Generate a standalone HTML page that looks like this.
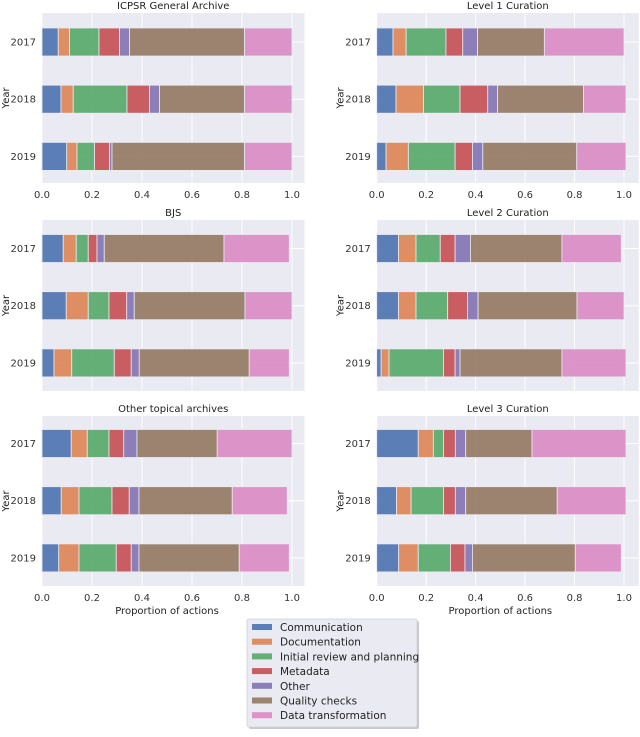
<!DOCTYPE html>
<html><head><meta charset="utf-8"><style>
html,body{margin:0;padding:0;background:#fff;}
svg{display:block;font-family:"DejaVu Sans","Liberation Sans",sans-serif;}
</style></head><body>
<svg id="chart" width="640" height="737" viewBox="0 0 640 737" xmlns="http://www.w3.org/2000/svg"></svg>
<script>
const categories = ["Communication","Documentation","Initial review and planning","Metadata","Other","Quality checks","Data transformation"];
const years = ["2017","2018","2019"];
const panelTitles = ["ICPSR General Archive","Level 1 Curation","BJS","Level 2 Curation","Other topical archives","Level 3 Curation"];
const icpsrValues = [[.065,.045,.118,.082,.04,.46,.19],[.076,.049,.215,.09,.04,.34,.19],[.099,.041,.07,.06,.01,.53,.19]];
const level1Values = [[.066,.053,.161,.068,.06,.27,.322],[.078,.111,.148,.112,.04,.347,.172],[.038,.09,.189,.07,.042,.38,.199]];
const bjsValues = [[.085,.052,.048,.035,.029,.479,.261],[.097,.088,.083,.071,.03,.443,.188],[.048,.071,.17,.068,.032,.44,.16]];
const level2Values = [[.088,.071,.098,.06,.062,.37,.24],[.088,.071,.128,.08,.043,.4,.19],[.018,.032,.22,.047,.02,.412,.259]];
const otherValues = [[.117,.064,.087,.059,.053,.321,.299],[.077,.071,.132,.069,.039,.373,.22],[.067,.081,.149,.06,.031,.401,.2]];
const level3Values = [[.168,.061,.041,.048,.042,.268,.38],[.08,.059,.131,.048,.042,.37,.278],[.089,.079,.13,.059,.03,.416,.186]];
const xTicks = [0,0.2,0.4,0.6,0.8,1.0];
const xTickLabels = ["0.0","0.2","0.4","0.6","0.8","1.0"];
const colors = ["#4c72b0","#dd8452","#55a868","#c44e52","#8172b3","#937860","#da8bc3"];
const allValues = [icpsrValues,level1Values,bjsValues,level2Values,otherValues,level3Values];
const NS="http://www.w3.org/2000/svg";
const svg=document.getElementById('chart');
function mk(tag,attrs,parent){const e=document.createElementNS(NS,tag);for(const k in attrs)e.setAttribute(k,attrs[k]);(parent||svg).appendChild(e);return e;}
const cols=[{x0:42,unit:250,xmax:1.05},{x0:376.7,unit:247.3,xmax:1.06}];
const rows=[{top:13,bottom:183,c0:42,ticks:true},{top:220,bottom:391,c0:248.5,ticks:false},{top:416,bottom:586,c0:443.5,ticks:true}];
const step=57.2;
panelTitles.forEach((title,p)=>{
  const c=cols[p%2], r=rows[Math.floor(p/2)];
  const g=mk('g',{});
  
  
  const xs=v=>c.x0+v*c.unit;
  const ys=i=>r.c0+i*step;
  const bg=mk('rect',{x:c.x0,y:r.top,width:c.unit*c.xmax,height:r.bottom-r.top,fill:'#eaeaf2'},g);
  
  
  xTicks.forEach((t,i)=>{
    mk('line',{x1:xs(t),x2:xs(t),y1:r.top,y2:r.bottom,stroke:'#fff','stroke-width':1},g);
    if(r.ticks){
      const tl=mk('text',{x:xs(t),y:r.bottom+15,'text-anchor':'middle','font-size':10,fill:'#333'},g);
      tl.textContent=xTickLabels[i];
      
      
    }
  });
  years.forEach((y,i)=>{
    mk('line',{x1:c.x0,x2:c.x0+c.unit*c.xmax,y1:ys(i),y2:ys(i),stroke:'#fff','stroke-width':1},g);
    const yl=mk('text',{x:c.x0-6,y:ys(i)+3.5,'text-anchor':'end','font-size':10,fill:'#333'},g);
    yl.textContent=y;
    
    
  });
  const vals=allValues[p];
  vals.forEach((row,i)=>{
    let acc=0;
    row.forEach((v,k)=>{
      const b=mk('rect',{x:xs(acc),y:ys(i)-14,width:v*c.unit,height:28,fill:colors[k],'fill-opacity':0.9,stroke:'#eaeaf2','stroke-width':0.8},g);
      
      
      acc+=v;
    });
  });
  const tt=mk('text',{x:c.x0+c.unit*c.xmax/2,y:r.top-4,'text-anchor':'middle','font-size':10,fill:'#222'},g);
  tt.textContent=title;
  
  
  const yt=mk('text',{x:0,y:0,'text-anchor':'middle','font-size':10,fill:'#222',transform:'translate('+(c.x0-33)+','+((r.top+r.bottom)/2)+') rotate(-90)'},g);
  yt.textContent='Year';
  
  
  if(p>=4){
    const xt=mk('text',{x:xs(0.5),y:r.bottom+28,'text-anchor':'middle','font-size':10,fill:'#222'},g);
    xt.textContent='Proportion of actions';
    
    
  }
});
const lg=mk('g',{});


mk('rect',{x:249,y:621,width:170,height:108,fill:'#c8c8cc',rx:2},lg);
mk('rect',{x:247,y:619,width:170,height:108,fill:'#eaeaf2',stroke:'#d0d0d6','stroke-width':0.8,rx:2},lg);
categories.forEach((cat,k)=>{
  const e=mk('g',{},lg);
  
  
  const cy=627+k*14.7;
  mk('rect',{x:252,y:cy-3,width:20,height:6,fill:colors[k],'fill-opacity':0.9},e);
  const t=mk('text',{x:280,y:cy+4,'font-size':10.5,fill:'#222'},e);
  t.textContent=cat;
});
</script>
</body></html>
